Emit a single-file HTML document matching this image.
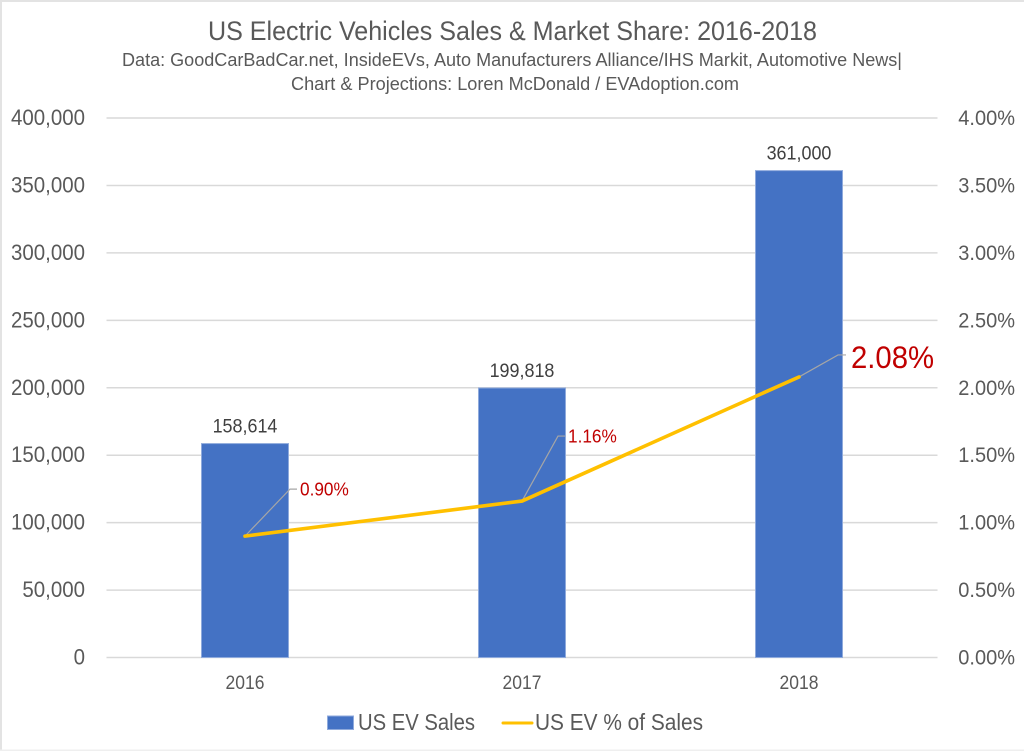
<!DOCTYPE html>
<html lang="en">
<head>
<meta charset="utf-8">
<title>US Electric Vehicles Sales &amp; Market Share: 2016-2018</title>
<style>
html,body{margin:0;padding:0;background:#fff;width:1024px;height:751px;overflow:hidden}
svg{display:block;position:absolute;left:0;top:0}
text{font-family:"Liberation Sans",sans-serif;fill:#595959}
</style>
</head>
<body>
<svg id="chart" xmlns="http://www.w3.org/2000/svg" width="1024" height="751" viewBox="0 0 1024 751">
  <rect x="0" y="0" width="1024" height="751" fill="#ffffff"/>
  <rect x="0" y="0" width="1024" height="2" fill="#e3e3e3"/>
  <rect x="0" y="0" width="2" height="751" fill="#e3e3e3"/>
  <rect x="0" y="749.5" width="1024" height="1.5" fill="#efefef"/>
  <text x="512.5" y="40" text-anchor="middle" font-size="26.5" textLength="609" lengthAdjust="spacingAndGlyphs">US Electric Vehicles Sales &amp; Market Share: 2016-2018</text>
  <text x="512" y="66" text-anchor="middle" font-size="18.5" textLength="780" lengthAdjust="spacingAndGlyphs">Data: GoodCarBadCar.net,  InsideEVs,  Auto Manufacturers Alliance/IHS Markit, Automotive News|</text>
  <text x="515" y="90" text-anchor="middle" font-size="18.5" textLength="448" lengthAdjust="spacingAndGlyphs">Chart &amp; Projections: Loren McDonald / EVAdoption.com</text>
  <g id="grid"></g>
  <g id="leftAxis"></g>
  <g id="rightAxis"></g>
  <g id="bars"></g>
  <g id="leaders"></g>
  <g id="line"></g>
  <g id="barLabels"></g>
  <g id="lineLabels"></g>
  <g id="xAxis"></g>
  <g>
    <g>
      <rect x="327.5" y="716" width="26" height="13.5" fill="#4472c4" stroke="#8faadc" stroke-width="1"/>
      <text x="358" y="730" font-size="23" textLength="117" lengthAdjust="spacingAndGlyphs">US EV Sales</text>
    </g>
    <g>
      <line x1="503" y1="723" x2="532" y2="723" stroke="#ffc000" stroke-width="3" stroke-linecap="round"/>
      <text x="535" y="730" font-size="23" textLength="168" lengthAdjust="spacingAndGlyphs">US EV % of Sales</text>
    </g>
  </g>
</svg>
<script>
const categories = ['2016', '2017', '2018'];
const salesValues = [158614, 199818, 361000];
const shareValues = [0.90, 1.16, 2.08];
const salesTicks = [0, 50000, 100000, 150000, 200000, 250000, 300000, 350000, 400000];
const shareTicks = [0, 0.5, 1, 1.5, 2, 2.5, 3, 3.5, 4];

const NS = 'http://www.w3.org/2000/svg';
const plotLeft = 106.5, plotRight = 937.5, plotTop = 118, plotBottom = 657.5;
const salesMax = 400000, shareMax = 4;
const barWidth = 87;

function xCenter(i) {
  return plotLeft + (plotRight - plotLeft) * (i + 0.5) / categories.length;
}
function ySales(v) {
  return plotBottom - (plotBottom - plotTop) * v / salesMax;
}
function yShare(v) {
  return plotBottom - (plotBottom - plotTop) * v / shareMax;
}
function make(parentId, tag, attrs, content) {
  const el = document.createElementNS(NS, tag);
  for (const k in attrs) el.setAttribute(k, attrs[k]);
  if (content !== undefined) el.textContent = content;
  document.getElementById(parentId).appendChild(el);
  return el;
}
function condense(el, factor) {
  el.setAttribute('textLength', el.getComputedTextLength() * factor);
  el.setAttribute('lengthAdjust', 'spacingAndGlyphs');
}
function fmtSales(v) {
  return v.toLocaleString('en-US');
}
function fmtShare(v) {
  return v.toFixed(2) + '%';
}

salesTicks.forEach(function (t) {
  const y = ySales(t);
  const grid = make('grid', 'line', {x1: plotLeft, x2: plotRight, y1: y, y2: y, stroke: '#d9d9d9', 'stroke-width': 1.5});
  
  
  const lab = make('leftAxis', 'text', {x: 85, y: y + 7, 'text-anchor': 'end', 'font-size': 22}, fmtSales(t));
  
  
  condense(lab, 0.93);
});

shareTicks.forEach(function (t) {
  const lab = make('rightAxis', 'text', {x: 1015, y: yShare(t) + 7, 'text-anchor': 'end', 'font-size': 21.5}, fmtShare(t));
  
  
  condense(lab, 0.93);
});

categories.forEach(function (c, i) {
  const x = xCenter(i);
  const top = ySales(salesValues[i]);
  const bar = make('bars', 'rect', {x: x - barWidth / 2, y: top, width: barWidth, height: plotBottom - top, fill: '#4472c4', stroke: '#8faadc', 'stroke-width': 1});
  
  
  const val = make('barLabels', 'text', {x: x, y: top - 11, 'text-anchor': 'middle', 'font-size': 19.5, style: 'fill:#404040'}, fmtSales(salesValues[i]));
  
  
  condense(val, 0.92);
  const tick = make('xAxis', 'text', {x: x, y: 689, 'text-anchor': 'middle', 'font-size': 19}, c);
  
  
  condense(tick, 0.92);
});

const linePoints = shareValues.map(function (v, i) {
  return xCenter(i) + ',' + yShare(v);
}).join(' ');
const shareLine = make('line', 'polyline', {points: linePoints, fill: 'none', stroke: '#ffc000', 'stroke-width': 3.6, 'stroke-linecap': 'round', 'stroke-linejoin': 'round'});



shareValues.forEach(function (v, i) {
  const x = xCenter(i), y = yShare(v);
  const big = i === shareValues.length - 1;
  const dx = i === 0 ? 45 : (i === 1 ? 36 : 39);
  const dy = i === 0 ? -47 : (i === 1 ? -65 : -22);
  const stub = big ? 8 : 7;
  const leader = make('leaders', 'polyline', {points: x + ',' + y + ' ' + (x + dx) + ',' + (y + dy) + ' ' + (x + dx + stub) + ',' + (y + dy), fill: 'none', stroke: '#a6a6a6', 'stroke-width': 1.2});
  
  
  const lab = make('lineLabels', 'text', {x: x + dx + stub + (big ? 5 : 3), y: y + dy + (big ? 13 : 6.5), 'font-size': big ? 31.5 : 18.5, style: 'fill:#c00000'}, fmtShare(v));
  
  
  condense(lab, 0.93);
});
</script>
</body>
</html>
